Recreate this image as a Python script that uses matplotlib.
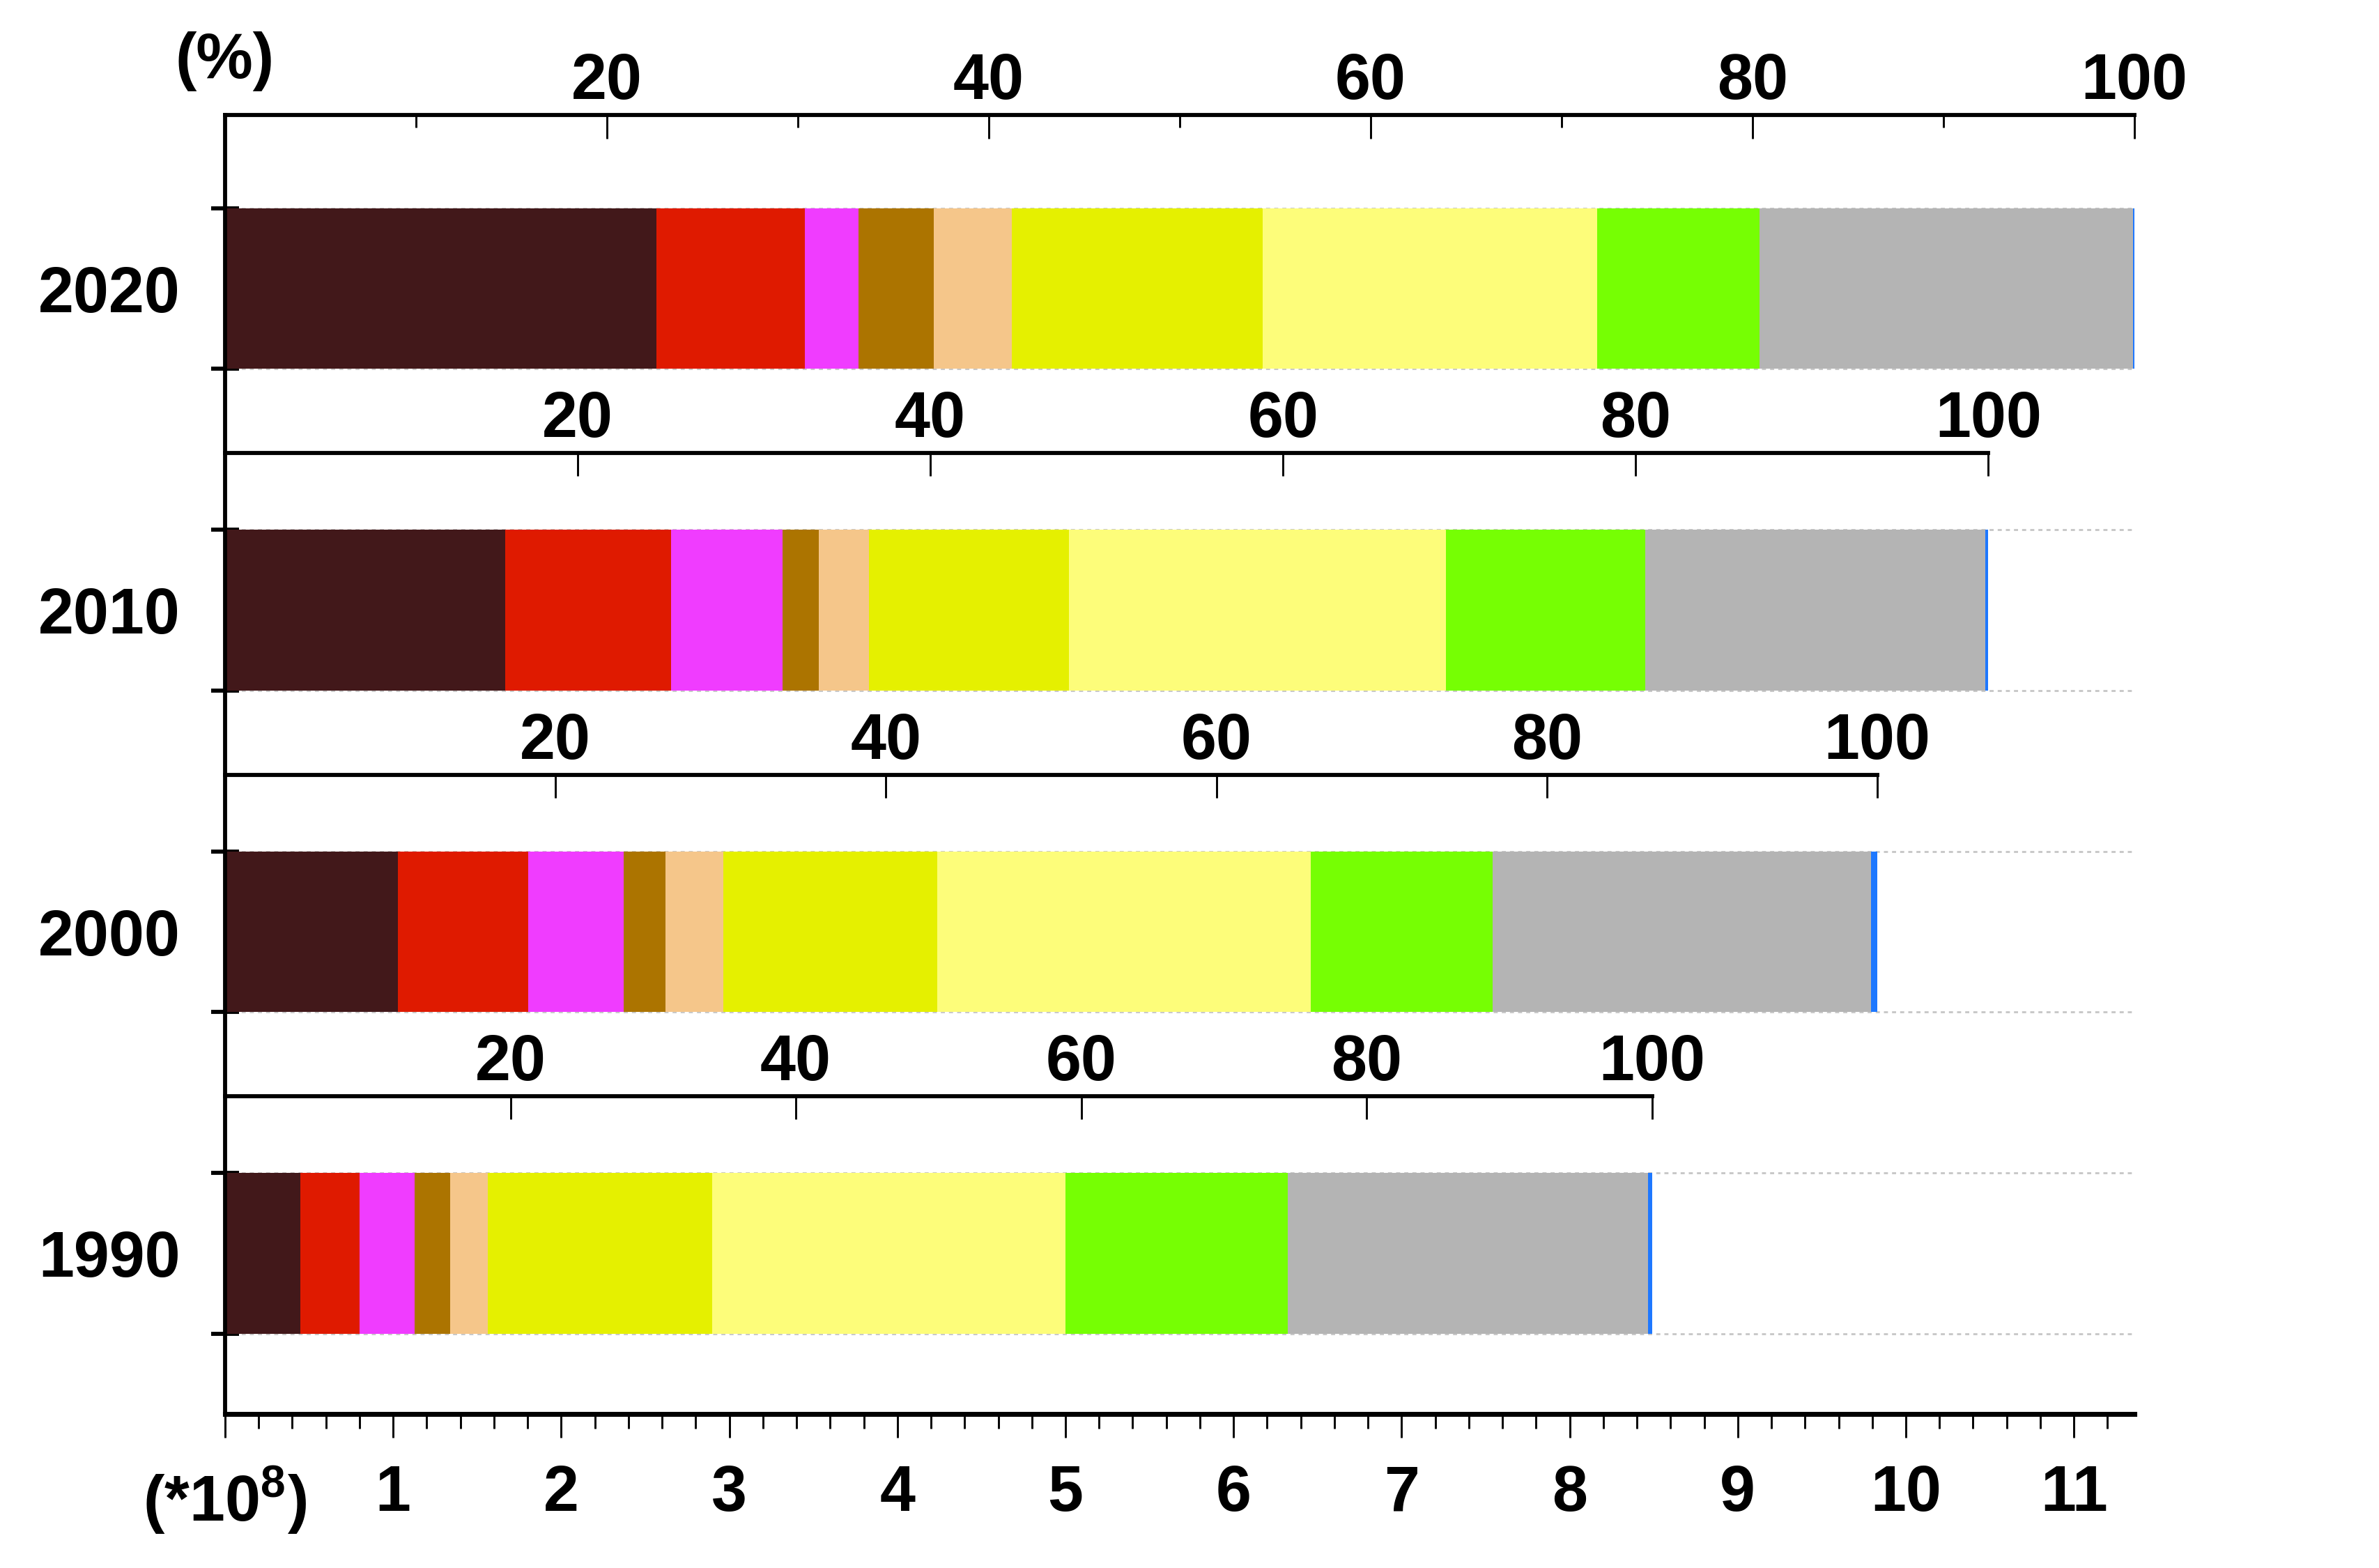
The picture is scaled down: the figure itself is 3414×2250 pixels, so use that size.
import matplotlib
matplotlib.use('Agg')
import matplotlib.pyplot as plt
from matplotlib.ticker import MultipleLocator

plt.rcParams['font.family'] = ['Liberation Sans', 'DejaVu Sans']
plt.rcParams['font.weight'] = 'bold'
plt.rcParams['mathtext.fontset'] = 'custom'
plt.rcParams['mathtext.rm'] = 'Liberation Sans:bold'
plt.rcParams['mathtext.it'] = 'Liberation Sans:bold'
plt.rcParams['mathtext.bf'] = 'Liberation Sans:bold'
plt.rcParams['mathtext.default'] = 'rm'

# ---------------- data ----------------
years = ['1990', '2000', '2010', '2020']
totals = [8.49, 9.83, 10.49, 11.36]          # x 10^8
# percentage shares of the ten components (left to right)
share_1990 = [5.26, 4.15, 3.88, 2.50, 2.61, 15.73, 24.78, 15.57, 25.26, 0.26]
share_2000 = [10.48, 7.86, 5.79, 2.53, 3.49, 12.96, 22.61, 10.99, 22.93, 0.36]
share_2010 = [15.89, 9.39, 6.33, 2.07, 2.84, 11.33, 21.40, 11.29, 19.29, 0.17]
share_2020 = [22.61, 7.75, 2.83, 3.93, 4.10, 13.11, 17.53, 8.50, 19.55, 0.09]
shares = [share_1990, share_2000, share_2010, share_2020]
colors = ['#42181A', '#DF1A00', '#F03CFF', '#AC7400', '#F5C68A',
          '#E5F000', '#FDFD7A', '#76FF03', '#B4B4B4', '#1E78FF']
x_ticklabels = ['(*10$^8$)', '1', '2', '3', '4', '5', '6', '7', '8', '9', '10', '11']
pct_ticks = [20, 40, 60, 80, 100]

# ---------------- figure ----------------
fig = plt.figure(figsize=(3414 / 300, 2250 / 300), dpi=300)
ax = fig.add_axes([0.0946, 0.0981, 0.8026, 0.8286])

positions = list(range(len(years)))
bar_h = 0.5
n_cat = len(colors)
lefts = [0.0] * len(years)
for k in range(n_cat):
    widths = [shares[i][k] * totals[i] / 100.0 for i in range(len(years))]
    ax.barh(positions, widths, left=lefts, height=bar_h, color=colors[k],
            linewidth=0, zorder=2)
    lefts = [lefts[i] + widths[i] for i in range(len(years))]

ax.set_xlim(0, max(totals))
ax.set_ylim(-0.5, 3.54)

for s in ['right', 'top']:
    ax.spines[s].set_visible(False)
ax.spines['left'].set_linewidth(1.4)
ax.spines['bottom'].set_linewidth(1.7)

# bottom axis
ax.set_xticks(range(len(x_ticklabels)))
ax.set_xticklabels(x_ticklabels)
ax.xaxis.set_minor_locator(MultipleLocator(0.2))
ax.tick_params(axis='x', which='major', direction='out', length=8.2, width=0.7,
               labelsize=22, pad=9)
ax.tick_params(axis='x', which='minor', direction='out', length=5, width=0.7)

# y axis: tick marks at bar edges, labels at centers
edges = []
for p in positions:
    edges += [p - bar_h / 2, p + bar_h / 2]
ax.set_yticks(edges)
ax.set_yticklabels([])
ax.set_yticks(positions, labels=years, minor=True)
ax.tick_params(axis='y', which='major', direction='inout', length=9.6, width=1.4)
ax.tick_params(axis='y', which='minor', length=0, pad=15.5, labelsize=22)
ax.yaxis.grid(True, which='major', color='#c8c8c8', linestyle=(0, (2, 2)),
              linewidth=0.7, zorder=0)
ax.set_axisbelow(True)

# percentage axes above each bar
ylim_top = ax.get_ylim()[1]
for i, (pos, total) in enumerate(zip(positions, totals)):
    tiny = 1e-4
    if i == len(years) - 1:
        ypos = ylim_top - tiny
    else:
        ypos = pos + 0.488
    sub = ax.inset_axes([0, ypos, total, tiny], transform=ax.transData)
    sub.set_xlim(0, 100)
    sub.set_ylim(0, 1)
    sub.patch.set_visible(False)
    for s in ['left', 'right', 'bottom']:
        sub.spines[s].set_visible(False)
    sub.spines['top'].set_linewidth(1.4)
    sub.xaxis.tick_top()
    sub.set_xticks(pct_ticks)
    sub.set_yticks([])
    if i == len(years) - 1:
        sub.set_xticks([10, 30, 50, 70, 90], minor=True)
        sub.tick_params(axis='x', which='major', direction='in', length=8.2,
                        width=0.7, labelsize=22, pad=1)
        sub.tick_params(axis='x', which='minor', direction='in', length=4.3,
                        width=0.7)
    else:
        sub.tick_params(axis='x', which='major', direction='in', length=7.8,
                        width=0.7, labelsize=22, pad=1)

ax.text(0, 1.041, '(%)', transform=ax.get_xaxis_transform(), ha='center',
        va='center', fontsize=22, fontweight='bold')

fig.savefig('out.png', dpi=300)
